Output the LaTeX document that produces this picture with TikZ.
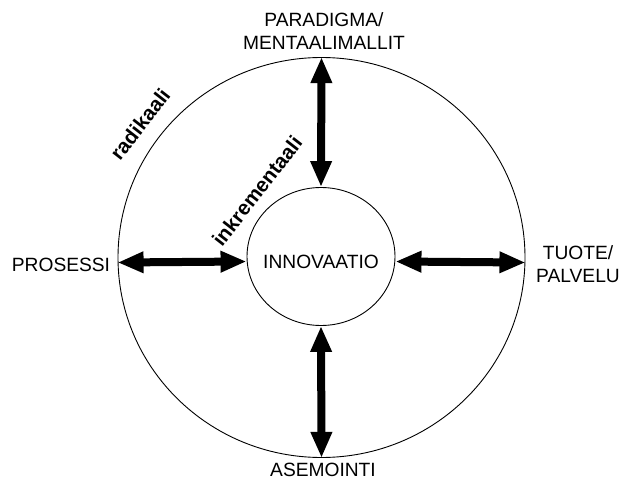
\documentclass[tikz,border=0pt]{standalone}
\usepackage{fontspec}
\setmainfont{Liberation Sans}
\usetikzlibrary{arrows.meta,shapes.geometric,calc}
\begin{document}
\begin{tikzpicture}[x=1pt,y=1pt,
  ring/.style={draw,ellipse,line width=0.9pt,inner sep=0pt},
  label/.style={font=\fontsize{19.2}{23.5}\selectfont,align=center,inner sep=0pt},
  slant/.style={font=\fontsize{20.5}{23}\selectfont\bfseries,inner sep=0pt,rotate=52},
  bigarrow/.style={line width=8pt,{Triangle[length=26pt,width=20pt]}-{Triangle[length=26pt,width=20pt]}}]
\useasboundingbox (0,0) rectangle (624,483);
% the two rings
\node[ring,minimum width=407pt,minimum height=400pt] (outer) at (321.5,225.5) {};
\node[ring,minimum width=148pt,minimum height=138pt] (inner) at (321,226.5) {};
\node[label] (innov) at (321,221) {INNOVAATIO};
% labels outside the rings
\node[label] (top) at (324,452) {PARADIGMA/\\MENTAALIMALLIT};
\node[label] (right) at (578,219) {TUOTE/\\PALVELU};
\node[label] (left) at (61,218) {PROSESSI};
\node[label] (bottom) at (323,13) {ASEMOINTI};
% tangential labels
\node[slant] (rad) at (140,359) {radikaali};
\node[slant] (ink) at (257,292) {inkrementaali};
% connecting arrows between the rings
\coordinate (ow) at ($(outer.west)+(0,-5)$);
\coordinate (iw) at ($(inner.west)+(0,-5)$);
\coordinate (oe) at ($(outer.east)+(0,-5)$);
\coordinate (ie) at ($(inner.east)+(0,-5)$);
\draw[bigarrow] (outer.north) -- (inner.north);
\draw[bigarrow] (inner.south) -- (outer.south);
\draw[bigarrow] (ow) -- (iw);
\draw[bigarrow] (ie) -- (oe);
\end{tikzpicture}
\end{document}
